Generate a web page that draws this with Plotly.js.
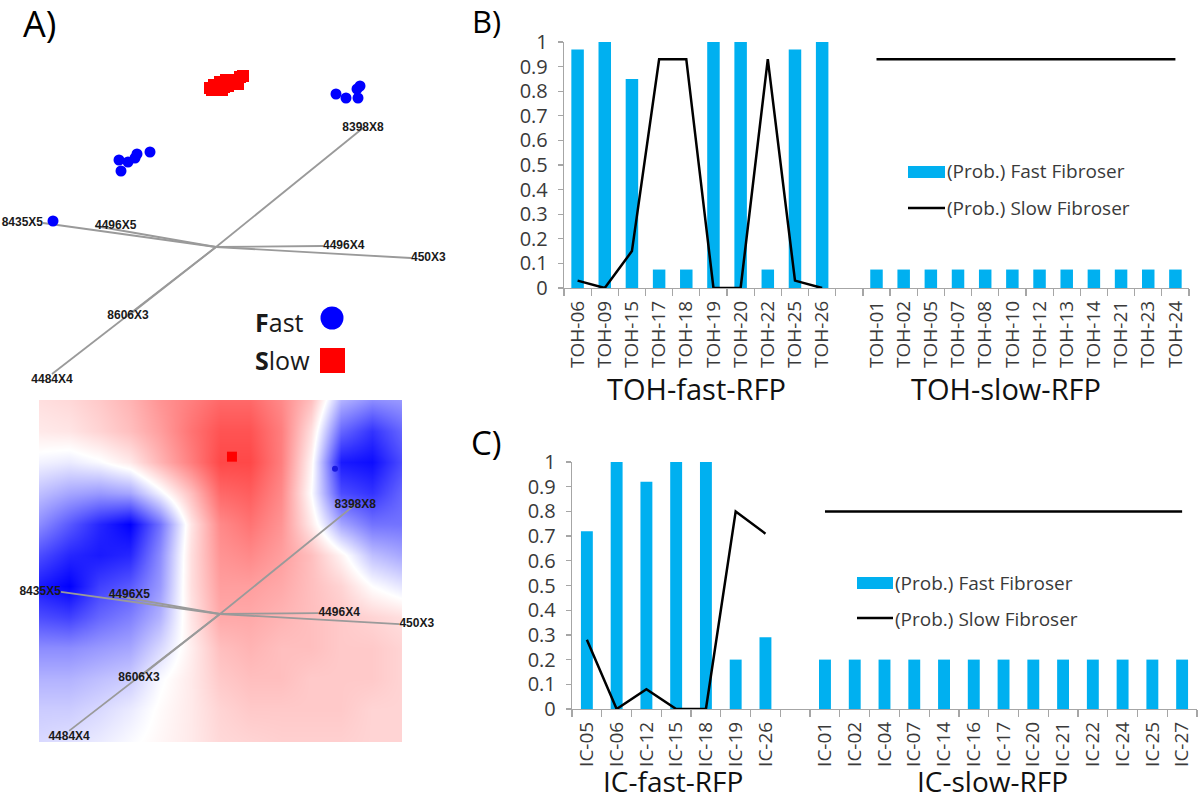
<!DOCTYPE html>
<html><head><meta charset="utf-8">
<script src="https://cdn.plot.ly/plotly-3.0.1.min.js"></script>
<style>html,body{margin:0;padding:0;background:#fff}#chart{width:1200px;height:801px}</style>
</head><body><div id="chart"></div>
<script>
// ---------- Panel B data ----------
const tohFastCats = ['TOH-06','TOH-09','TOH-15','TOH-17','TOH-18','TOH-19','TOH-20','TOH-22','TOH-25','TOH-26'];
const tohSlowCats = ['TOH-01','TOH-02','TOH-05','TOH-07','TOH-08','TOH-10','TOH-12','TOH-13','TOH-14','TOH-21','TOH-23','TOH-24'];
const tohFastGroupProbFast = [0.97,1.0,0.85,0.075,0.075,1.0,1.0,0.075,0.97,1.0];
const tohFastGroupProbSlow = [0.03,0.0,0.15,0.93,0.93,0.0,0.0,0.93,0.03,0.0];
const tohSlowGroupProbFast = [0.075,0.075,0.075,0.075,0.075,0.075,0.075,0.075,0.075,0.075,0.075,0.075];
const tohSlowGroupProbSlow = [0.93,0.93,0.93,0.93,0.93,0.93,0.93,0.93,0.93,0.93,0.93,0.93];

// ---------- Panel C data ----------
const icFastCats = ['IC-05','IC-06','IC-12','IC-15','IC-18','IC-19','IC-26'];
const icSlowCats = ['IC-01','IC-02','IC-04','IC-07','IC-14','IC-16','IC-17','IC-20','IC-21','IC-22','IC-24','IC-25','IC-27'];
const icFastGroupProbFast = [0.72,1.0,0.92,1.0,1.0,0.2,0.29];
const icFastGroupProbSlow = [0.28,0.0,0.08,0.0,0.0,0.8,0.71];
const icSlowGroupProbFast = [0.2,0.2,0.2,0.2,0.2,0.2,0.2,0.2,0.2,0.2,0.2,0.2,0.2];
const icSlowGroupProbSlow = [0.8,0.8,0.8,0.8,0.8,0.8,0.8,0.8,0.8,0.8,0.8,0.8,0.8];

const seriesFastName = '(Prob.) Fast Fibroser';
const seriesSlowName = '(Prob.) Slow Fibroser';

// ---------- Panel A data (biplot, PC units) ----------
const fastPC1 = [120,130,142,141,144,-97,-88,-81,-79,-66,-95,-163];
const fastPC2 = [153,149,149,158,161,87,85,89,93,95,76,26];
const slowPC1 = [-4,2,8,4,12,16,20,24,27,22,10,-2,-6,6];
const slowPC2 = [157,159,160,165,161,163,167,170,171,163,167,162,159,157];
const loadNames = ['8398X8','8435X5','4496X5','4496X4','450X3','8606X3','4484X4'];
const loadPC1 = [147,-173,-121,107,195,-88,-164];
const loadPC2 = [119,24,21,1,-11,-69,-127];
// bottom map markers
const mapSlowPC1 = [13], mapSlowPC2 = [171];
const mapFastPC1 = [125], mapFastPC2 = [158];
// decision-surface grid (-1 = fast/blue, +1 = slow/red), rows top to bottom
const gridPC1 = [-197,-164,-131,-98,-65,-32,0,33,66,99,132,165,198];
const gridPC2 = [233,199,165,132,98,64,30,-3,-37,-71,-104,-139];
const gridZ = [
 [0.15,0.18,0.25,0.35,0.50,0.60,0.70,0.70,0.55,0.30,-0.30,-0.45,-0.40],
 [0.10,0.12,0.20,0.30,0.45,0.65,0.80,0.80,0.60,0.15,-0.60,-0.80,-0.60],
 [-0.05,-0.08,-0.02,0.10,0.35,0.60,0.85,0.85,0.60,0.05,-0.90,-0.95,-0.70],
 [-0.25,-0.35,-0.40,-0.35,-0.05,0.30,0.70,0.75,0.55,0.00,-0.70,-0.80,-0.60],
 [-0.45,-0.65,-0.85,-1.00,-0.55,0.12,0.55,0.65,0.50,0.10,-0.35,-0.55,-0.55],
 [-0.70,-0.85,-0.90,-0.85,-0.45,0.15,0.50,0.55,0.45,0.30,0.05,-0.25,-0.35],
 [-0.90,-1.00,-0.75,-0.65,-0.40,0.15,0.45,0.45,0.40,0.30,0.20,0.00,-0.10],
 [-0.70,-0.75,-0.60,-0.50,-0.30,0.12,0.40,0.40,0.35,0.30,0.25,0.20,0.15],
 [-0.45,-0.45,-0.40,-0.35,-0.15,0.08,0.30,0.35,0.30,0.30,0.25,0.25,0.20],
 [-0.30,-0.30,-0.25,-0.20,-0.02,0.10,0.25,0.30,0.30,0.25,0.25,0.25,0.20],
 [-0.20,-0.20,-0.15,-0.08,0.02,0.10,0.20,0.25,0.25,0.25,0.25,0.20,0.20],
 [-0.15,-0.12,-0.08,-0.02,0.04,0.10,0.18,0.20,0.22,0.22,0.22,0.20,0.20]
];

// ---------- helpers ----------
const W = 1200, H = 801;
const px = x => x / W;
const py = y => 1 - y / H;
const GAP = '\u00a0';
const BLUE_BAR = '#00b0f0';
const TXT = '#3a3a3a';
const AX = '#a6a6a6';
const FONT = 'Open Sans, Noto Sans, sans-serif';

const bCats = tohFastCats.concat([GAP], tohSlowCats);
const bFast = tohFastGroupProbFast.concat([null], tohSlowGroupProbFast);
const bSlow = tohFastGroupProbSlow.concat([null], tohSlowGroupProbSlow);
const cCats = icFastCats.concat([GAP], icSlowCats);
const cFast = icFastGroupProbFast.concat([null], icSlowGroupProbFast);
const cSlow = icFastGroupProbSlow.concat([null], icSlowGroupProbSlow);

function segs(a, b) {
  const xs = [], ys = [];
  for (let i = 0; i < a.length; i++) { xs.push(0, a[i], null); ys.push(0, b[i], null); }
  return [xs, ys];
}
const [lx, ly] = segs(loadPC1, loadPC2);
const labelPos = ['middle center','middle left','middle right','middle right','middle right','middle center','bottom center'];
const labelFont = {family:'Liberation Sans, Arial, sans-serif', size:12, color:'#1a1a1a', weight:700};

const traces = [];
// Panel A top
traces.push({type:'scatter', mode:'lines', x:lx, y:ly, xaxis:'x3', yaxis:'y3',
  line:{color:'#9a9a9a', width:1.8}, hoverinfo:'skip', cliponaxis:false});
traces.push({type:'scatter', mode:'text', x:loadPC1, y:loadPC2, text:loadNames, textposition:labelPos,
  textfont:labelFont, xaxis:'x3', yaxis:'y3', hoverinfo:'skip', cliponaxis:false});
traces.push({type:'scatter', mode:'markers', x:slowPC1, y:slowPC2, xaxis:'x3', yaxis:'y3',
  marker:{symbol:'square', size:12, color:'#ff0000'}, hoverinfo:'skip', cliponaxis:false});
traces.push({type:'scatter', mode:'markers', x:fastPC1, y:fastPC2, xaxis:'x3', yaxis:'y3',
  marker:{symbol:'circle', size:11, color:'#0000ff'}, hoverinfo:'skip', cliponaxis:false});

// Panel A bottom
traces.push({type:'heatmap', x:gridPC1, y:gridPC2.slice().reverse(), z:gridZ.slice().reverse(),
  zsmooth:'best', zmin:-1, zmax:1, showscale:false, xaxis:'x4', yaxis:'y4', hoverinfo:'skip',
  colorscale:[[0,'rgb(0,0,255)'],[0.5,'rgb(255,255,255)'],[1,'rgb(255,40,40)']]});
traces.push({type:'scatter', mode:'lines', x:lx, y:ly, xaxis:'x4', yaxis:'y4',
  line:{color:'#9a9a9a', width:1.8}, hoverinfo:'skip', cliponaxis:false});
traces.push({type:'scatter', mode:'text', x:loadPC1, y:loadPC2, text:loadNames, textposition:labelPos,
  textfont:labelFont, xaxis:'x4', yaxis:'y4', hoverinfo:'skip', cliponaxis:false});
traces.push({type:'scatter', mode:'markers', x:mapSlowPC1, y:mapSlowPC2, xaxis:'x4', yaxis:'y4',
  marker:{symbol:'square', size:10, color:'#ff0000'}, hoverinfo:'skip', cliponaxis:false});
traces.push({type:'scatter', mode:'markers', x:mapFastPC1, y:mapFastPC2, xaxis:'x4', yaxis:'y4',
  marker:{symbol:'circle', size:6, color:'#1818e0'}, hoverinfo:'skip', cliponaxis:false});

// Panel B
traces.push({type:'bar', name:seriesFastName, x:bCats, y:bFast, xaxis:'x', yaxis:'y',
  width:0.46, marker:{color:BLUE_BAR}, hoverinfo:'skip'});
traces.push({type:'scatter', mode:'lines', name:seriesSlowName, x:bCats, y:bSlow, xaxis:'x', yaxis:'y',
  line:{color:'#000', width:2.5}, hoverinfo:'skip', cliponaxis:false});
// Panel C
traces.push({type:'bar', name:seriesFastName, x:cCats, y:cFast, xaxis:'x2', yaxis:'y2',
  width:0.4, marker:{color:BLUE_BAR}, hoverinfo:'skip'});
traces.push({type:'scatter', mode:'lines', name:seriesSlowName, x:cCats, y:cSlow, xaxis:'x2', yaxis:'y2',
  line:{color:'#000', width:2.5}, hoverinfo:'skip', cliponaxis:false});

const catAxis = (dom, anchor, cats) => ({
  domain:dom, anchor:anchor, type:'category', categoryorder:'array', categoryarray:cats,
  range:[-0.5, cats.length - 0.5], tickangle:-90, ticks:'outside', tickson:'boundaries',
  ticklen:7, tickcolor:AX, tickwidth:1.2, showline:true, linecolor:AX, linewidth:1.2,
  showgrid:false, zeroline:false, fixedrange:true, ticklabelstandoff:4,
  tickfont:{family:FONT, size:19, color:TXT}
});
const valAxis = (dom, anchor) => ({
  domain:dom, anchor:anchor, range:[0,1], dtick:0.1, tick0:0, ticks:'outside', ticklen:5,
  tickcolor:AX, tickwidth:1.2, showline:true, linecolor:AX, linewidth:1.2, showgrid:false,
  zeroline:false, fixedrange:true, ticklabelstandoff:6,
  tickfont:{family:FONT, size:20, color:TXT}
});
const hidden = (dom, anchor, range) => ({domain:dom, anchor:anchor, range:range, visible:false, fixedrange:true});

function ann(text, x, y, size, xanchor, color) {
  return {text:text, x:px(x), y:py(y), xref:'paper', yref:'paper', showarrow:false,
    xanchor:xanchor || 'center', yanchor:'middle', font:{family:FONT, size:size, color:color || '#000'}};
}

const annotations = [
  ann('A)', 21, 24, 36, 'left'),
  ann('B)', 470, 21, 31, 'left'),
  ann('C)', 469, 442, 33, 'left'),
  ann('TOH-fast-RFP', 696, 388, 29, 'center', '#111'),
  ann('TOH-slow-RFP', 1006, 388, 29, 'center', '#111'),
  ann('IC-fast-RFP', 673, 781, 28, 'center', '#111'),
  ann('IC-slow-RFP', 992, 781, 28, 'center', '#111'),
  ann(seriesFastName, 945, 171, 19, 'left', TXT),
  ann(seriesSlowName, 945, 208, 19, 'left', TXT),
  ann(seriesFastName, 893, 583, 19, 'left', TXT),
  ann(seriesSlowName, 893, 619, 19, 'left', TXT),
  ann('<b>F</b>ast', 253, 322, 25, 'left', '#1a1a1a'),
  ann('<b>S</b>low', 253, 360, 25, 'left', '#1a1a1a')
];

const shapes = [
  {type:'rect', xref:'paper', yref:'paper', x0:px(908), x1:px(945), y0:py(166), y1:py(178), fillcolor:BLUE_BAR, line:{width:0}},
  {type:'line', xref:'paper', yref:'paper', x0:px(908), x1:px(945), y0:py(208), y1:py(208), line:{color:'#000', width:2.5}},
  {type:'rect', xref:'paper', yref:'paper', x0:px(857), x1:px(893), y0:py(577), y1:py(589), fillcolor:BLUE_BAR, line:{width:0}},
  {type:'line', xref:'paper', yref:'paper', x0:px(857), x1:px(893), y0:py(618), y1:py(618), line:{color:'#000', width:2.5}},
  {type:'circle', xref:'paper', yref:'paper', x0:px(320.5), x1:px(343.5), y0:py(306.5), y1:py(329.5), fillcolor:'#0000ff', line:{width:0}},
  {type:'rect', xref:'paper', yref:'paper', x0:px(320), x1:px(345), y0:py(348), y1:py(373), fillcolor:'#ff0000', line:{width:0}}
];

const layout = {
  width:W, height:H, margin:{l:0, r:0, t:0, b:0}, paper_bgcolor:'#fff', plot_bgcolor:'rgba(0,0,0,0)',
  showlegend:false, bargap:0.5,
  font:{family:FONT, color:TXT},
  xaxis: catAxis([px(564), px(1189)], 'y', bCats),
  yaxis: valAxis([py(288), py(42)], 'x'),
  xaxis2: catAxis([px(572), px(1197)], 'y2', cCats),
  yaxis2: valAxis([py(709), py(462)], 'x2'),
  xaxis3: hidden([0, px(460)], 'y3', [-216, 244]),
  yaxis3: hidden([py(400), 1], 'x3', [-153, 247]),
  xaxis4: hidden([px(39), px(402)], 'y4', [-196.7, 197.8]),
  yaxis4: hidden([py(742), py(400)], 'x4', [-139.1, 232.6]),
  annotations: annotations,
  shapes: shapes
};

Plotly.newPlot('chart', traces, layout, {displayModeBar:false, staticPlot:true});
</script>
</body></html>
